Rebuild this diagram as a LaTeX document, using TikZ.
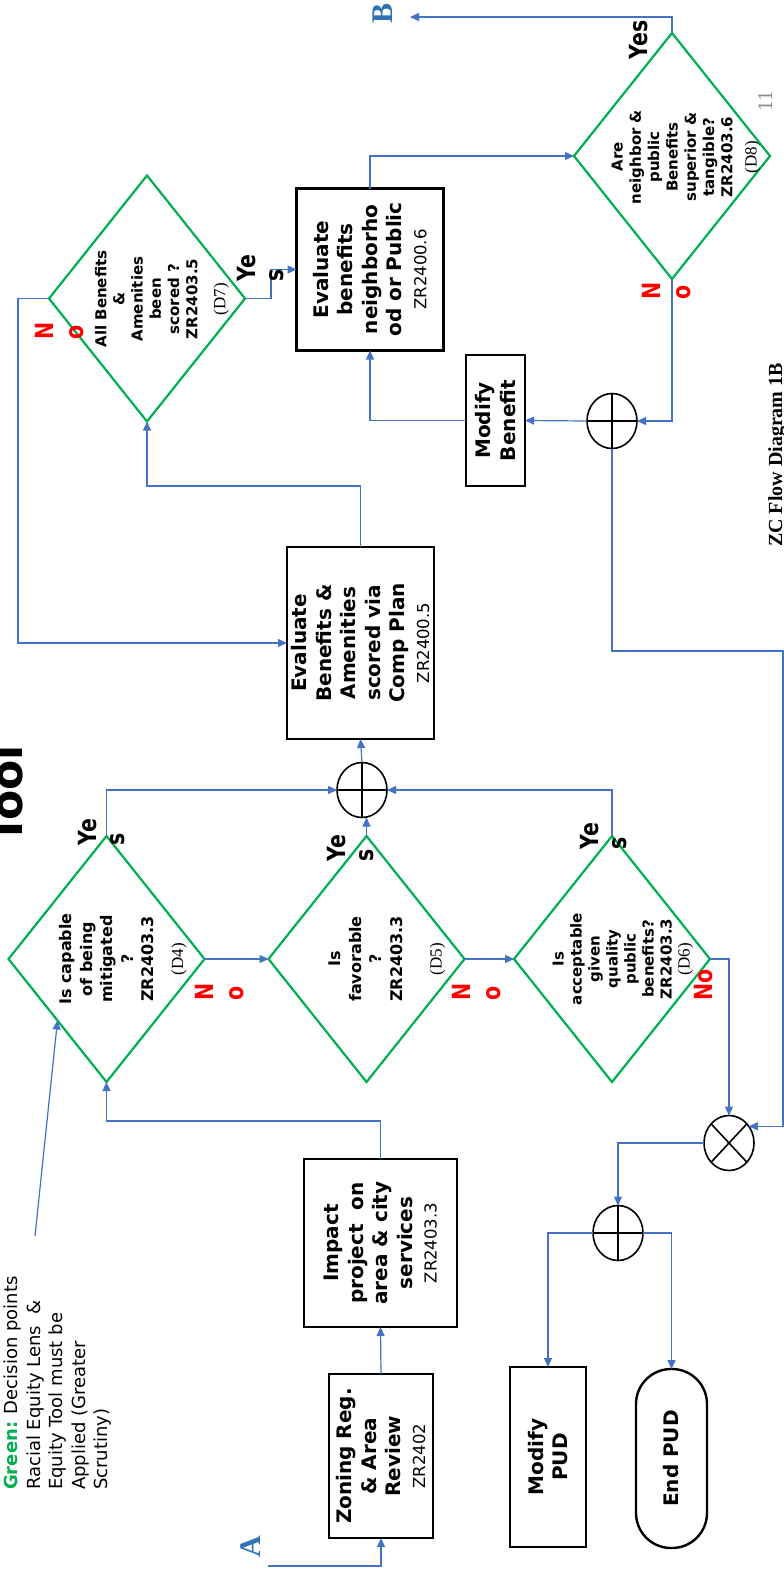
\documentclass[tikz,border=0pt]{standalone}
\usepackage{graphicx}
\usepackage{fontspec}
\setmainfont{DejaVu Sans}
\newfontfamily\tms{Liberation Serif}
\usetikzlibrary{shapes.geometric,arrows.meta}
\definecolor{dgreen}{RGB}{0,176,80}
\definecolor{cblue}{RGB}{68,114,196}
\definecolor{lblue}{RGB}{46,116,181}
\definecolor{cred}{RGB}{255,0,0}
\newcommand{\fs}[2]{\fontsize{#1}{#2}\selectfont}
\newcommand{\sq}[1]{\scalebox{0.82}[1]{#1}}
\newcommand{\dl}[1]{{\tms\mdseries\fs{17}{20}#1}}
\begin{document}
\begin{tikzpicture}[x=1pt,y=-1pt,
  box/.style={draw=black,line width=2.4pt,inner sep=0pt,outer sep=0pt},
  dia/.style={diamond,draw=dgreen,line width=2.2pt,inner sep=0pt,outer sep=0pt,minimum width=196pt,minimum height=246pt},
  junc/.style={ellipse,draw=black,line width=1.6pt,inner sep=0pt,outer sep=0pt,minimum width=50pt,minimum height=55pt},
  conn/.style={draw=cblue,line width=1.2pt,-{Triangle[length=9pt,width=8pt]}},
  rtext/.style={rotate=90,inner sep=0pt,align=center},
  boxtext/.style={rtext,font=\bfseries\fs{20}{24.5}},
  yeslab/.style={rotate=90,inner sep=0pt,align=left,font=\bfseries\fs{25}{28}},
  nolab/.style={rotate=90,inner sep=0pt,align=left,font=\bfseries\fs{25}{30},text=cred},
  letter/.style={rotate=90,inner sep=0pt,font=\tms\bfseries\fs{30}{34},text=lblue}
]
\useasboundingbox (0,0) rectangle (784,1572);
\fill[white] (0,0) rectangle (784,1572);

% ---------- boxes ----------
\node[box,minimum width=104pt,minimum height=164pt] (zon) at (381,1456) {};
\node[boxtext] (zont) at (zon) {Zoning Reg.\\ \& Area\\ Review\\ {\mdseries\fs{16.5}{20}ZR2402}};

\node[box,minimum width=153pt,minimum height=168pt] (imp) at (380.5,1243) {};
\node[boxtext] (impt) at (imp) {Impact\\ project~ on\\ area \& city\\ services\\ {\mdseries\fs{16.5}{20}ZR2403.3}};

\node[box,minimum width=147pt,minimum height=192pt] (evb) at (360.5,643) {};
\node[boxtext] (evbt) at (evb) {Evaluate\\ Benefits \&\\ Amenities\\ scored via\\ Comp Plan\\ {\mdseries\fs{16.5}{20}ZR2400.5}};

\node[box,minimum width=147pt,minimum height=162pt] (enb) at (370,269.5) {};
\node[boxtext] (enbt) at (enb) {Evaluate\\ benefits\\ neighborho\\ od or Public\\ {\mdseries\fs{16.5}{20}ZR2400.6}};

\node[box,minimum width=59pt,minimum height=131pt] (mb) at (495.5,420.5) {};
\node[boxtext] (mbt) at (mb) {Modify\\ Benefit};

\node[box,minimum width=76pt,minimum height=180pt] (mpud) at (548,1457) {};
\node[boxtext] (mpudt) at (mpud) {Modify\\ PUD};

\node[box,rounded corners=35pt,minimum width=71pt,minimum height=179pt] (epud) at (671.5,1458.5) {};
\node[boxtext] (epudt) at (epud) {End PUD};

% ---------- diamonds ----------
\node[dia] (d4) at (106.5,959) {};
\node[dia] (d5) at (366.5,959) {};
\node[dia] (d6) at (612,959) {};
\node[dia] (d7) at (147,298.5) {};
\node[dia] (d8) at (672,156) {};

\node[rtext,font=\bfseries\fs{16}{20.5}] (d4t) at (123,959) {Is capable\\ of being\\ mitigated\\ ?\\ ZR2403.3\\[9pt] \dl{(D4)}};
\node[rtext,font=\bfseries\fs{16}{20.5}] (d5t) at (387,959) {Is\\ favorable\\ ?\\ ZR2403.3\\[19pt] \dl{(D5)}};
\node[rtext,font=\bfseries\fs{15}{18}] (d6t) at (623,959) {Is\\ acceptable\\ given\\ quality\\ public\\ benefits?\\ ZR2403.3\\ \dl{(D6)}};
\node[rtext,font=\bfseries\fs{15}{18.2}] (d7t) at (162,299) {All Benefits\\ \&\\ Amenities\\ been\\ scored ?\\ ZR2403.5\\[10pt] \dl{(D7)}};
\node[rtext,font=\bfseries\fs{15}{18.3}] (d8t) at (686,157) {Are\\ neighbor \&\\ public\\ Benefits\\ superior \&\\ tangible?\\ ZR2403.6\\[6pt] \dl{(D8)}};

% ---------- junctions ----------
\node[junc] (or1) at (362,790) {};
\draw[line width=1.6pt] (or1.north) -- (or1.south) (or1.west) -- (or1.east);
\node[junc] (or2) at (612,421) {};
\draw[line width=1.6pt] (or2.north) -- (or2.south) (or2.west) -- (or2.east);
\node[junc] (or3) at (618,1233) {};
\draw[line width=1.6pt] (or3.north) -- (or3.south) (or3.west) -- (or3.east);
\node[junc] (xc) at (729,1143) {};
\draw[line width=1.6pt] (xc.47) -- (xc.227) (xc.133) -- (xc.313);

% ---------- free ends ----------
\coordinate (Aend) at (268,1566);
\coordinate (Bend) at (410,17);
\coordinate (rt1) at (783,651);
\coordinate (legstart) at (35,1236);

% ---------- connectors ----------
\draw[conn] (Aend) -| (zon.south);
\draw[conn] (zon.north) -- (imp.south);
\draw[conn] (imp.north) -- ++(0,-38) -| (d4.south);
\draw[conn] (legstart) -- (d4.south west);
\draw[conn] (d4.east) -- (d5.west);
\draw[conn] (d5.east) -- (d6.west);
\draw[conn] (d4.north) |- (or1.west);
\draw[conn] (d6.north) |- (or1.east);
\draw[conn] (d5.north) -- (d5.north |- or1.south);
\draw[conn] (or1.north) -- (evb.south);
\draw[conn] (evb.north) -- ++(0,-61) -| (d7.south);
\draw[conn] (d7.west) -- ++(-31,0) |- (evb.west);
\draw[conn] (d7.east) -- ++(26,0) |- (enb.west);
\draw[conn] (enb.north) |- (d8.west);
\draw[conn] (d8.north) |- (Bend);
\draw[conn] (d8.south) |- (or2.east);
\draw[conn] (or2.west) -- (mb.east);
\draw[conn] (mb.west) -| (enb.south);
\draw[conn] (or2.south) |- (rt1) |- (xc.40);
\draw[conn] (d6.east) -| (xc.north);
\draw[conn] (xc.west) -| (or3.north);
\draw[conn] (or3.west) -| (mpud.north);
\draw[conn] (or3.east) -| (epud.north);

% ---------- branch labels ----------
\node[yeslab] (y4) at (102,832) {\sq{Ye}\\\sq{s}};
\node[yeslab] (y5) at (351,848) {\sq{Ye}\\\sq{s}};
\node[yeslab] (y6) at (604,836) {\sq{Ye}\\\sq{s}};
\node[yeslab] (y7) at (261,268) {\sq{Ye}\\\sq{s}};
\node[yeslab] (y8) at (639,40) {\sq{Yes}};
\node[nolab] (n4) at (220,992) {\sq{N}\\\sq{o}};
\node[nolab] (n5) at (477,992) {\sq{N}\\\sq{o}};
\node[nolab] (n7) at (60,331) {\sq{N}\\\sq{o}};
\node[nolab] (n8) at (667,291) {\sq{N}\\\sq{o}};
\node[nolab] (n6) at (704,985) {\sq{No}};

\node[letter] (la) at (251,1547) {A};
\node[letter] (lb) at (383,13) {B};

% ---------- legend & titles ----------
\node[rotate=90,inner sep=0pt,align=left,anchor=north west,font=\fs{18}{22.4}] (legend) at (4,1490)
  {{\color{dgreen}\bfseries Green:} Decision points\\ Racial Equity Lens~ \&\\ Equity Tool must be\\ Applied (Greater\\ Scrutiny)};

\node[rotate=90,inner sep=0pt,anchor=base,font=\tms\bfseries\fs{20}{24}] (title) at (782,455) {ZC Flow Diagram 1B};
\node[rotate=90,inner sep=0pt,anchor=base,font=\tms\fs{21}{24},text=black!45] (pg) at (772,101) {11};

\begin{scope}
\clip (0,0) rectangle (784,1572);
\node[rotate=90,inner sep=0pt,anchor=base,font=\bfseries\fs{44}{50}] (tool) at (23,795) {Tool};
\end{scope}
\end{tikzpicture}
\end{document}
